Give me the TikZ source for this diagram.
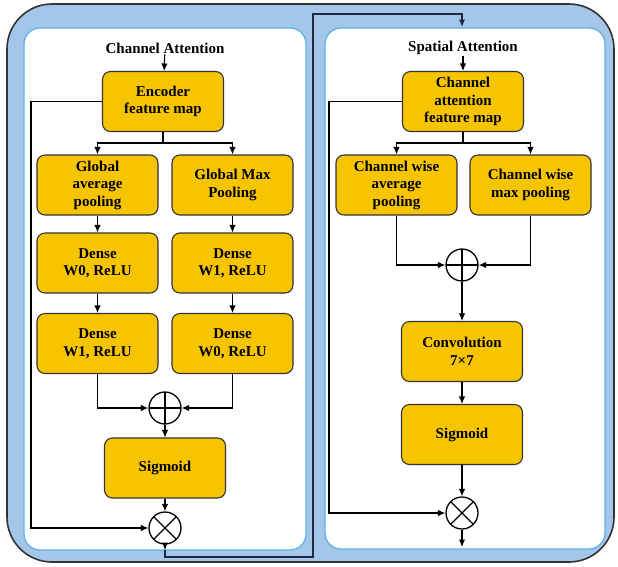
\documentclass[tikz,border=0pt]{standalone}
\usepackage{fontspec}
\setmainfont{Liberation Serif}
\usetikzlibrary{arrows.meta,positioning}
\definecolor{frameblue}{RGB}{164,198,233}
\definecolor{panelline}{RGB}{92,180,230}
\definecolor{boxgold}{RGB}{247,197,0}
\definecolor{linknavy}{RGB}{30,40,70}
\tikzset{
  block/.style={draw=black!80, line width=1.1pt, fill=boxgold, rounded corners=8pt,
    minimum width=121pt, minimum height=60pt, align=center, inner sep=2pt,
    font=\fontsize{15}{17.5}\selectfont\bfseries},
  opnode/.style={circle, draw, line width=1.3pt, minimum size=32pt, inner sep=0pt},
  addop/.style={opnode, path picture={\draw[line width=1.2pt]
    (path picture bounding box.north) -- (path picture bounding box.south)
    (path picture bounding box.west) -- (path picture bounding box.east);}},
  mulop/.style={opnode, path picture={\draw[line width=1.2pt]
    (path picture bounding box.north west) -- (path picture bounding box.south east)
    (path picture bounding box.south west) -- (path picture bounding box.north east);}},
  title/.style={font=\fontsize{15}{17}\selectfont\bfseries, inner sep=1pt},
  flow/.style={line width=1.1pt, ->},
  panel/.style={draw=panelline, line width=1.3pt, fill=white, rounded corners=16pt},
}
\begin{document}
\begin{tikzpicture}[x=1pt,y=-1pt,>={Latex[length=7.5pt,width=6.5pt]},node distance=78pt,on grid]
\useasboundingbox (0,0) rectangle (618,566);
% frame and the two panels
\draw[draw=black!80, line width=1.6pt, fill=frameblue, rounded corners=45pt] (7,4) rectangle (614,562);
\draw[panel] (24,28) rectangle (306,550);
\draw[panel] (325,28) rectangle (605,549);

% channel attention
\node[title] (catitle) at (165,48) {Channel Attention};
\node[block] (enc) at (163,101.5) {Encoder\\feature map};
\node[block] (gap) at (97.5,185) {Global\\average\\pooling};
\node[block] (gmp) at (232.5,185) {Global Max\\Pooling};
\node[block] (dnA) [below=of gap] {Dense\\W0, ReLU};
\node[block] (dnB) [below=80.5pt of dnA] {Dense\\W1, ReLU};
\node[block] (dnC) [below=of gmp] {Dense\\W1, ReLU};
\node[block] (dnD) [below=80.5pt of dnC] {Dense\\W0, ReLU};
\node[addop] (addL) at (165,408) {};
\node[block] (sigL) at (165,468) {Sigmoid};
\node[mulop] (mulL) at (165,528) {};
\coordinate (splitL) at (163,143);
\coordinate (skipL) at (31,101.5);

\draw[flow] (catitle) -- (enc);
\draw[line width=1.1pt] (enc.south) -- (splitL);
\draw[flow] (splitL) -| (gap.north);
\draw[flow] (splitL) -| (gmp.north);
\draw[flow] (gap) -- (dnA);
\draw[flow] (dnA) -- (dnB);
\draw[flow] (gmp) -- (dnC);
\draw[flow] (dnC) -- (dnD);
\draw[flow] (dnB.south) |- (addL.west);
\draw[flow] (dnD.south) |- (addL.east);
\draw[flow] (addL) -- (sigL);
\draw[flow] (sigL) -- (mulL);
\draw[flow] (enc.west) -- (skipL) |- (mulL.west);

% link between the panels
\coordinate (linkA) at (165,550);
\coordinate (linkB) at (165,557);
\coordinate (linkC) at (313,557);
\coordinate (linkD) at (313,14);
\coordinate (linkE) at (462,14);
\coordinate (linkF) at (462,27);
\draw[flow] (mulL.south) -- (linkA);
\draw[flow, draw=linknavy, line width=1.6pt] (linkA) -- (linkB) -- (linkC) -- (linkD) -- (linkE) -- (linkF);

% spatial attention
\node[title] (satitle) at (463,48) {Spatial Attention};
\node[block] (cafm) at (463,101.5) {Channel\\attention\\feature map};
\node[block] (cwavg) at (396.5,185) {Channel wise\\average\\pooling};
\node[block] (cwmax) at (530.5,185) {Channel wise\\max pooling};
\node[addop] (addR) at (462,265) {};
\node[block] (conv) at (462,351.5) {Convolution\\7×7};
\node[block] (sigR) [below=83pt of conv] {Sigmoid};
\node[mulop] (mulR) at (462,513) {};
\coordinate (splitR) at (463,143);
\coordinate (skipR) at (329,101.5);
\coordinate (outR) at (462,547);

\draw[flow] (satitle) -- (cafm);
\draw[line width=1.1pt] (cafm.south) -- (splitR);
\draw[flow] (splitR) -| (cwavg.north);
\draw[flow] (splitR) -| (cwmax.north);
\draw[flow] (cwavg.south) |- (addR.west);
\draw[flow] (cwmax.south) |- (addR.east);
\draw[flow] (addR) -- (conv);
\draw[flow] (conv) -- (sigR);
\draw[flow] (sigR) -- (mulR);
\draw[flow] (cafm.west) -- (skipR) |- (mulR.west);
\draw[flow] (mulR) -- (outR);
\end{tikzpicture}
\end{document}
